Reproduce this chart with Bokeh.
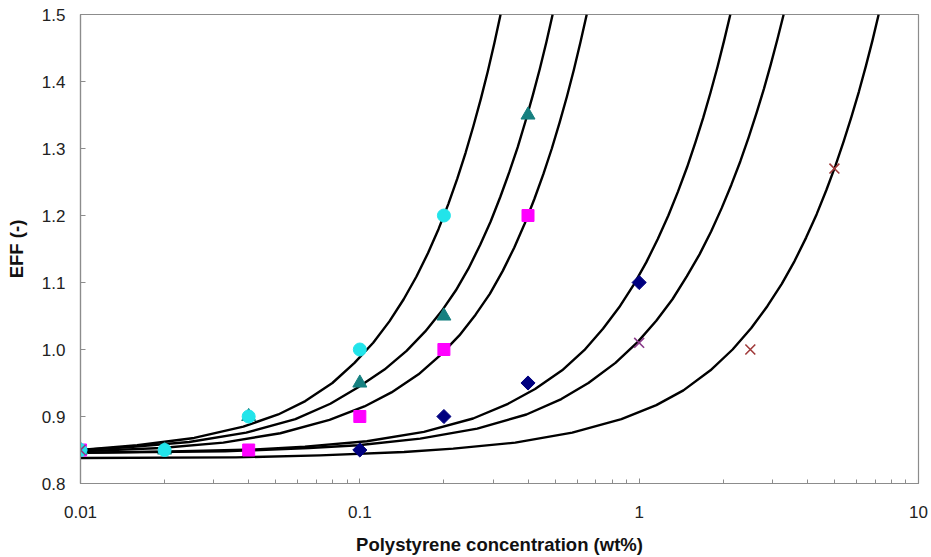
import math
from bokeh.plotting import figure
from bokeh.models import FixedTicker, CustomJSTickFormatter, PrintfTickFormatter, Range1d
from bokeh.embed import file_html
from bokeh.resources import INLINE

# ---- measured points (x = wt%, y = EFF) ----
circ_x = [0.01, 0.02, 0.04, 0.1, 0.2]
circ_y = [0.85, 0.85, 0.90, 1.00, 1.20]
tri_x = [0.01, 0.02, 0.04, 0.1, 0.2, 0.4]
tri_y = [0.85, 0.85, 0.90, 0.95, 1.05, 1.35]
sq_x = [0.01, 0.04, 0.1, 0.2, 0.4]
sq_y = [0.85, 0.85, 0.90, 1.00, 1.20]
dia_x = [0.01, 0.1, 0.2, 0.4, 1.0]
dia_y = [0.85, 0.85, 0.90, 0.95, 1.10]
xp_x = [0.01, 1.0]
xp_y = [0.85, 1.01]
xb_x = [2.5, 5.0]
xb_y = [1.00, 1.27]

# ---- fitted curves ----
c1_x = [0.01, 0.01595, 0.02552, 0.03828, 0.05104, 0.0638, 0.07975, 0.0957, 0.11165, 0.1276, 0.14355,
        0.1595, 0.17545, 0.1914, 0.20735, 0.2233, 0.23925, 0.2552, 0.27115, 0.2871, 0.30305, 0.319]
c1_y = [0.850, 0.857, 0.868, 0.885, 0.903, 0.923, 0.950, 0.980, 1.010, 1.042, 1.075,
        1.109, 1.144, 1.180, 1.217, 1.255, 1.294, 1.334, 1.374, 1.415, 1.457, 1.500]

c2_x = [0.01, 0.0147, 0.0245, 0.0392, 0.0588, 0.0784, 0.098, 0.1225, 0.147, 0.1715, 0.196, 0.2205,
        0.245, 0.2695, 0.294, 0.3185, 0.343, 0.3675, 0.392, 0.4165, 0.441, 0.4655, 0.49]
c2_y = [0.850, 0.854, 0.862, 0.876, 0.896, 0.919, 0.943, 0.970, 0.998, 1.027, 1.057, 1.088,
        1.121, 1.156, 1.191, 1.228, 1.265, 1.302, 1.341, 1.380, 1.419, 1.459, 1.500]

c3_x = [0.01, 0.01947, 0.03245, 0.05192, 0.07788, 0.10384, 0.1298, 0.16225, 0.1947, 0.22715, 0.2596,
        0.29205, 0.3245, 0.35695, 0.3894, 0.42185, 0.4543, 0.48675, 0.5192, 0.55165, 0.5841, 0.61655, 0.649]
c3_y = [0.848, 0.853, 0.861, 0.875, 0.895, 0.915, 0.936, 0.963, 0.992, 1.021, 1.052,
        1.083, 1.117, 1.152, 1.188, 1.225, 1.262, 1.300, 1.339, 1.378, 1.418, 1.459, 1.500]

c4_x = [0.01, 0.0212, 0.0424, 0.0636, 0.106, 0.1696, 0.2544, 0.3392, 0.424, 0.53, 0.636, 0.742, 0.848,
        0.954, 1.06, 1.166, 1.272, 1.378, 1.484, 1.59, 1.696, 1.802, 1.908, 2.014, 2.12]
c4_y = [0.846, 0.848, 0.851, 0.855, 0.863, 0.877, 0.897, 0.919, 0.941, 0.969, 0.999, 1.031, 1.063,
        1.096, 1.130, 1.165, 1.200, 1.236, 1.272, 1.309, 1.346, 1.384, 1.422, 1.461, 1.500]

c5_x = [0.01, 0.0329, 0.0658, 0.0987, 0.1645, 0.2632, 0.3948, 0.5264, 0.658, 0.8225, 0.987, 1.1515, 1.316,
        1.4805, 1.645, 1.8095, 1.974, 2.1385, 2.303, 2.4675, 2.632, 2.7965, 2.961, 3.1255, 3.29]
c5_y = [0.846, 0.848, 0.853, 0.857, 0.867, 0.882, 0.903, 0.926, 0.950, 0.980, 1.011, 1.043, 1.075,
        1.109, 1.142, 1.176, 1.211, 1.246, 1.281, 1.317, 1.353, 1.389, 1.426, 1.463, 1.500]

c6_x = [0.01, 0.036, 0.072, 0.144, 0.216, 0.36, 0.576, 0.864, 1.152, 1.44, 1.8, 2.16, 2.52, 2.88, 3.24,
        3.6, 3.96, 4.32, 4.68, 5.04, 5.4, 5.76, 6.12, 6.48, 6.84, 7.2]
c6_y = [0.838, 0.839, 0.842, 0.847, 0.852, 0.861, 0.876, 0.896, 0.917, 0.939, 0.969, 1.000, 1.032, 1.065, 1.098,
        1.132, 1.167, 1.202, 1.238, 1.274, 1.311, 1.348, 1.385, 1.423, 1.461, 1.500]

x_ticks = [0.01, 0.1, 1, 10]
x_minor = [0.02, 0.03, 0.04, 0.05, 0.06, 0.07, 0.08, 0.09,
           0.2, 0.3, 0.4, 0.5, 0.6, 0.7, 0.8, 0.9,
           2, 3, 4, 5, 6, 7, 8, 9]
y_ticks = [0.8, 0.9, 1.0, 1.1, 1.2, 1.3, 1.4, 1.5]

FONT = "Liberation Sans"
AX = "#8c8c8c"

p = figure(width=931, height=557, x_axis_type="log",
           x_range=Range1d(0.01, 10), y_range=Range1d(0.8, 1.5),
           output_backend="svg", toolbar_location=None,
           min_border_left=80, min_border_right=13, min_border_top=14, min_border_bottom=72)
p.background_fill_color = "white"
p.border_fill_color = "white"
p.outline_line_color = AX
p.outline_line_width = 1.2
p.xgrid.visible = False
p.ygrid.visible = False

xa = p.xaxis[0]
xa.ticker = FixedTicker(ticks=x_ticks, minor_ticks=x_minor)
xa.formatter = CustomJSTickFormatter(code="return tick.toString();")
xa.axis_label = "Polystyrene concentration (wt%)"
ya = p.yaxis[0]
ya.ticker = FixedTicker(ticks=y_ticks)
ya.formatter = PrintfTickFormatter(format="%.1f")
ya.axis_label = "EFF (-)"

for ax in (xa, ya):
    ax.axis_line_color = AX
    ax.axis_line_width = 1.2
    ax.major_tick_line_color = AX
    ax.minor_tick_line_color = AX
    ax.major_tick_in = 5
    ax.major_tick_out = 0
    ax.minor_tick_in = 4
    ax.minor_tick_out = 0
    ax.major_label_text_font = FONT
    ax.major_label_text_font_size = "17px"
    ax.major_label_text_color = "#222222"
    ax.axis_label_text_font = FONT
    ax.axis_label_text_font_size = "18.5px"
    ax.axis_label_text_font_style = "bold"
    ax.axis_label_text_color = "#111111"
ya.minor_tick_line_color = None
xa.major_label_standoff = 22
xa.axis_label_standoff = 13
ya.major_label_standoff = 15
ya.axis_label_standoff = 12

for cx, cy in [(c1_x, c1_y), (c2_x, c2_y), (c3_x, c3_y), (c4_x, c4_y), (c5_x, c5_y), (c6_x, c6_y)]:
    p.line(cx, cy, line_color="black", line_width=2.4, line_join="round")

p.scatter(dia_x, dia_y, marker="square", angle=math.pi / 4, size=10, color="#000080")
p.scatter(sq_x, sq_y, marker="square", size=12, color="#ff00ff")
p.scatter(tri_x, tri_y, marker="triangle", size=14, color="#168080")
p.scatter(circ_x, circ_y, marker="circle", size=13, color="#22e4ea")
p.scatter(xp_x, xp_y, marker="x", size=14, line_color="#8a3c8a", line_width=1.6)
p.scatter(xb_x, xb_y, marker="x", size=14, line_color="#a03a3a", line_width=1.6)

open("out.html", "w").write(file_html(p, INLINE))
